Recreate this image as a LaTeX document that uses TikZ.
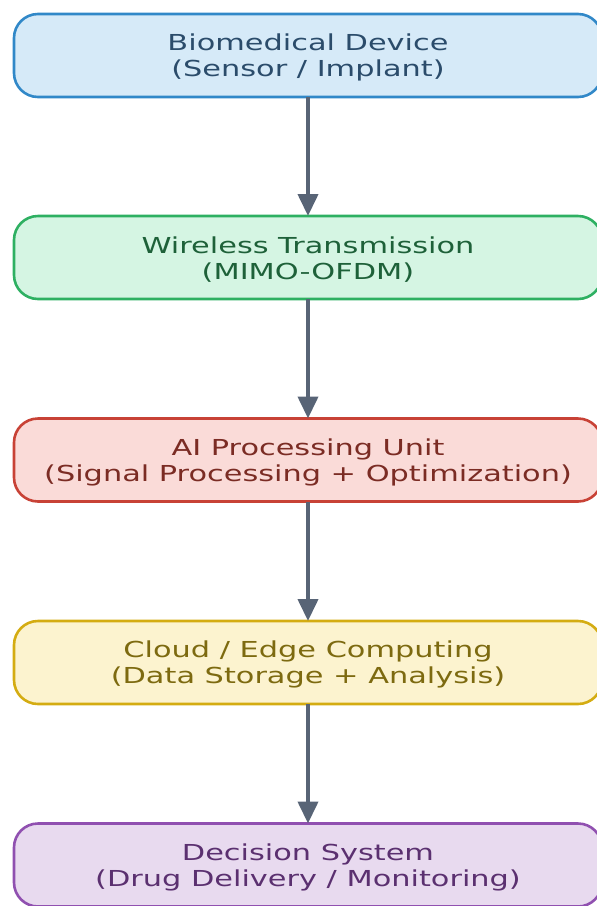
\documentclass[tikz,border=0pt]{standalone}
\usepackage{fontspec}
\setmainfont{DejaVu Sans}
\usetikzlibrary{arrows.meta}
\definecolor{fillA}{HTML}{D6EAF8}\definecolor{lineA}{HTML}{3188C8}\definecolor{textA}{HTML}{2B4C6B}
\definecolor{fillB}{HTML}{D5F5E3}\definecolor{lineB}{HTML}{2EB062}\definecolor{textB}{HTML}{1E6139}
\definecolor{fillC}{HTML}{FADBD8}\definecolor{lineC}{HTML}{C84236}\definecolor{textC}{HTML}{7B2C24}
\definecolor{fillD}{HTML}{FCF3CF}\definecolor{lineD}{HTML}{D4AC12}\definecolor{textD}{HTML}{7D6A10}
\definecolor{fillE}{HTML}{E8DAEF}\definecolor{lineE}{HTML}{9050B0}\definecolor{textE}{HTML}{5B3070}
\definecolor{arrowc}{HTML}{586476}
\newcommand\widetext[1]{\scalebox{1.38}[1]{#1}}
\newcommand\firstline[1]{\rule{0pt}{21pt}\widetext{#1}}
\begin{document}
\begin{tikzpicture}[x=1pt,y=-1pt,
  flowbox/.style={draw, line width=2.6pt, rounded corners=24pt,
    minimum width=588pt, minimum height=83pt, inner sep=0pt, outer sep=0pt,
    align=center, font=\fontsize{22}{26}\selectfont},
  flowarrow/.style={draw=arrowc, line width=4pt, -{Triangle[length=22pt,width=20pt]}}]
\useasboundingbox (0,0) rectangle (597,906);
\clip (0,0) rectangle (597,906);
\node[flowbox, fill=fillA, draw=lineA, text=textA] (dev) at (308,55.5)
  {\firstline{Biomedical Device}\\\widetext{(Sensor / Implant)}};
\node[flowbox, fill=fillB, draw=lineB, text=textB] (wire) at (308,257.5)
  {\firstline{Wireless Transmission}\\\widetext{(MIMO-OFDM)}};
\node[flowbox, fill=fillC, draw=lineC, text=textC] (ai) at (308,460)
  {\firstline{AI Processing Unit}\\\widetext{(Signal Processing + Optimization)}};
\node[flowbox, fill=fillD, draw=lineD, text=textD] (cloud) at (308,662.5)
  {\firstline{Cloud / Edge Computing}\\\widetext{(Data Storage + Analysis)}};
\node[flowbox, fill=fillE, draw=lineE, text=textE] (dec) at (308,865)
  {\firstline{Decision System}\\\widetext{(Drug Delivery / Monitoring)}};
\draw[flowarrow] (dev.south) -- (wire.north);
\draw[flowarrow] (wire.south) -- (ai.north);
\draw[flowarrow] (ai.south) -- (cloud.north);
\draw[flowarrow] (cloud.south) -- (dec.north);
\end{tikzpicture}
\end{document}
